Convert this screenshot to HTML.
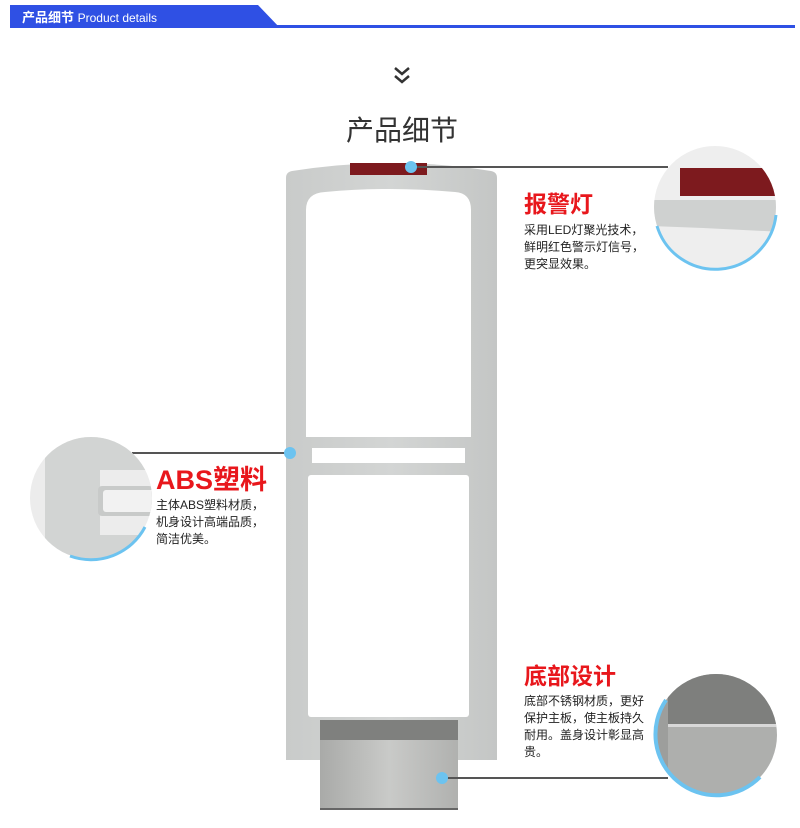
<!DOCTYPE html>
<html><head><meta charset="utf-8"><style>
body{margin:0;background:#fff;}
svg{display:block}
.t{font-family:"Liberation Sans","Noto Sans CJK SC",sans-serif;}
</style></head><body>
<svg width="800" height="828" viewBox="0 0 800 828" xmlns="http://www.w3.org/2000/svg">
<defs>
<linearGradient id="steel" x1="0" y1="0" x2="1" y2="0">
<stop offset="0" stop-color="#a9aaa8"/><stop offset="0.5" stop-color="#c9cac8"/><stop offset="1" stop-color="#b0b1af"/></linearGradient>
<linearGradient id="gate" x1="0" y1="0" x2="1" y2="0">
<stop offset="0" stop-color="#c9cbca"/><stop offset="0.5" stop-color="#d3d5d4"/><stop offset="1" stop-color="#c4c6c5"/></linearGradient>
<clipPath id="c1"><circle cx="715" cy="207" r="61"/></clipPath>
<clipPath id="c2"><circle cx="91" cy="498" r="61"/></clipPath>
<clipPath id="c3"><circle cx="716" cy="735" r="61"/></clipPath>
</defs>
<!-- header -->
<polygon points="10,5 258,5 280,28 10,28" fill="#2f50e4"/>
<rect x="10" y="25" width="785" height="3" fill="#2f50e4"/>
<text x="22" y="22" class="t" font-size="13" fill="#fff" font-weight="bold">产品细节 <tspan font-weight="normal" font-size="12">Product details</tspan></text>
<!-- chevrons -->
<polyline points="395,68 402,74 409,68" fill="none" stroke="#333" stroke-width="2.5"/>
<polyline points="395,76 402,82 409,76" fill="none" stroke="#333" stroke-width="2.5"/>
<text x="402" y="140" class="t" font-size="28" fill="#333" text-anchor="middle">产品细节</text>
<!-- gate -->
<path d="M286,178 Q286,172 292,171 Q392,155 491,171 Q497,172 497,178 L497,760 L286,760 Z" fill="url(#gate)"/>
<path d="M306,210 Q306,193 325,192 Q390,186 455,192 Q471,193 471,210 L471,437 L306,437 Z" fill="#fff"/>
<rect x="312" y="448" width="153" height="15" fill="#fff"/>
<rect x="308" y="475" width="161" height="242" rx="3" fill="#fff"/>
<rect x="350" y="163" width="77" height="12" fill="#7d1a1e"/>
<!-- base -->
<rect x="320" y="720" width="138" height="90" fill="url(#steel)"/>
<rect x="320" y="720" width="138" height="20" fill="#7f807e"/>
<rect x="320" y="808" width="138" height="2" fill="#666"/>
<!-- lines -->
<line x1="411" y1="167" x2="668" y2="167" stroke="#555" stroke-width="2"/>
<line x1="132" y1="453" x2="290" y2="453" stroke="#555" stroke-width="2"/>
<line x1="442" y1="778" x2="668" y2="778" stroke="#555" stroke-width="2"/>
<circle cx="411" cy="167" r="6" fill="#6cc3f0"/>
<circle cx="290" cy="453" r="6" fill="#6cc3f0"/>
<circle cx="442" cy="778" r="6" fill="#6cc3f0"/>
<!-- circle 1 -->
<g clip-path="url(#c1)">
<rect x="650" y="140" width="130" height="140" fill="#eeeeee"/>
<path d="M650,200 L780,200 L780,232 Q715,228 650,226 Z" fill="#cfd1d0"/>
<rect x="680" y="168" width="100" height="28" fill="#7d1a1e"/>
</g>
<path d="M657,226 A61,61 0 0 0 776,215" fill="none" stroke="#6cc3f0" stroke-width="3"/>
<!-- circle 2 -->
<g clip-path="url(#c2)">
<rect x="25" y="435" width="135" height="130" fill="#ececec"/>
<rect x="45" y="435" width="55" height="130" fill="#d2d4d3"/>
<path d="M100,435 L100,470 L155,470 L155,435 Z" fill="#d2d4d3"/>
<rect x="98" y="486" width="55" height="30" rx="4" fill="#c8cac9"/>
<rect x="103" y="490" width="52" height="22" rx="3" fill="#f2f2f2"/>
<rect x="90" y="535" width="65" height="30" fill="#d2d4d3"/>
</g>
<path d="M70,556 A61,61 0 0 0 145,527" fill="none" stroke="#6cc3f0" stroke-width="3"/>
<!-- circle 3 -->
<g clip-path="url(#c3)">
<rect x="650" y="670" width="135" height="130" fill="#aeafad"/>
<rect x="668" y="670" width="117" height="55" fill="#7e7f7d"/>
<rect x="668" y="724" width="117" height="3" fill="#d8d8d8"/>
<rect x="650" y="670" width="18" height="130" fill="#9d9e9c"/>
</g>
<path d="M666,700 A61,61 0 0 0 760,777" fill="none" stroke="#6cc3f0" stroke-width="4"/>
<!-- texts -->
<g class="t">
<text x="524" y="212" font-size="23" fill="#e8171c" font-weight="bold">报警灯</text>
<text x="524" y="234" font-size="12" fill="#222">采用LED灯聚光技术，</text>
<text x="524" y="251" font-size="12" fill="#222">鲜明红色警示灯信号，</text>
<text x="524" y="268" font-size="12" fill="#222">更突显效果。</text>
<text x="156" y="489" font-size="27" fill="#e8171c" font-weight="bold">ABS塑料</text>
<text x="156" y="509" font-size="12" fill="#222">主体ABS塑料材质，</text>
<text x="156" y="526" font-size="12" fill="#222">机身设计高端品质，</text>
<text x="156" y="543" font-size="12" fill="#222">简洁优美。</text>
<text x="524" y="684" font-size="23" fill="#e8171c" font-weight="bold">底部设计</text>
<text x="524" y="705" font-size="12" fill="#222">底部不锈钢材质，更好</text>
<text x="524" y="722" font-size="12" fill="#222">保护主板，使主板持久</text>
<text x="524" y="739" font-size="12" fill="#222">耐用。盖身设计彰显高</text>
<text x="524" y="756" font-size="12" fill="#222">贵。</text>
</g>
</svg>
</body></html>
